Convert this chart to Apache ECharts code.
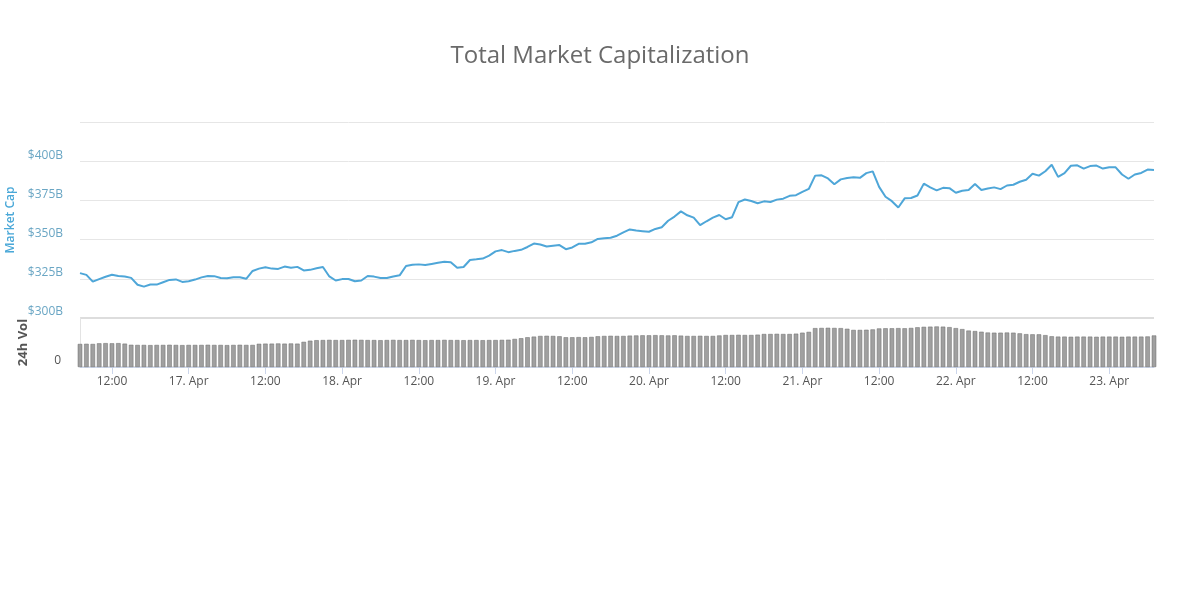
<!DOCTYPE html>
<html>
<head>
<meta charset="utf-8">
<script src="https://cdn.jsdelivr.net/npm/echarts@6/dist/echarts.min.js"></script>
<style>
html,body{margin:0;padding:0;background:#fff;}
#chart{width:1200px;height:610px;}
</style>
</head>
<body>
<div id="chart"></div>
<script>
// Hourly samples from 16 Apr 2018 07:00 to 23 Apr 2018 07:00
const startTimeUTC = Date.UTC(2018, 3, 16, 7, 0);
const stepHours = 1;

// Total market capitalization, $B
const marketCap = [
328.6,327.5,323.2,324.8,326.3,327.6,326.8,326.5,325.6,321.2,320.0,321.4,321.3,322.8,324.3,324.6,323.0,
323.4,324.5,325.9,326.8,326.7,325.5,325.3,326.0,326.0,325.0,330.0,331.5,332.4,331.5,331.3,332.8,332.0,332.6,330.3,330.7,331.7,332.5,326.5,323.9,
324.8,324.9,323.4,323.9,326.8,326.4,325.5,325.5,326.5,327.2,333.2,334.0,334.2,333.8,334.5,335.2,335.9,335.6,332.0,332.5,337.0,337.4,337.9,339.8,
342.5,343.3,342.0,342.8,343.5,345.3,347.5,346.9,345.6,346.1,346.5,343.9,345.0,347.3,347.4,348.3,350.4,350.9,351.2,352.5,354.6,356.5,355.8,355.4,
355.0,356.8,357.9,362.0,364.7,368.0,365.5,364.0,359.2,361.7,364.0,365.7,363.0,364.3,373.9,375.6,374.6,373.2,374.4,374.0,375.5,376.1,377.9,378.3,
380.4,382.3,390.8,391.0,389.0,385.3,388.4,389.3,389.7,389.4,392.4,393.5,383.6,377.3,374.5,370.5,376.3,376.5,378.1,385.7,383.3,381.4,383.0,382.8,
379.9,381.2,381.6,385.5,381.6,382.6,383.3,382.2,384.5,385.0,386.9,388.2,392.0,390.8,393.6,397.7,390.0,392.4,397.1,397.4,395.3,396.9,397.2,395.3,
396.2,396.1,391.5,388.8,391.5,392.5,394.7,394.4
];

// 24h volume, $B
const volume24h = [
14.1,14.2,14.1,14.5,
14.6,14.5,14.6,14.3,
13.6,13.5,13.5,13.4,13.5,13.5,13.6,13.5,13.4,13.5,13.5,13.5,13.6,13.5,13.5,13.4,13.5,13.6,13.5,13.5,
14.2,14.3,14.3,14.4,14.3,14.4,14.3,
15.4,16.1,
16.4,16.5,16.6,16.5,16.5,16.6,16.7,16.6,16.5,16.5,16.4,16.5,16.6,16.5,16.5,16.6,16.5,16.4,16.5,16.5,16.6,16.5,16.5,16.4,16.5,16.5,16.4,16.5,16.5,16.6,16.7,17.2,
17.6,18.2,18.6,
19.0,19.1,19.0,18.8,
18.2,18.2,18.3,18.2,18.4,18.8,
19.0,19.1,19.0,19.0,19.2,19.3,
19.4,19.4,19.5,19.4,19.3,19.4,19.2,
19.0,19.0,19.1,19.0,19.0,19.3,
19.6,19.6,19.7,19.6,19.6,19.8,
20.2,20.2,20.3,20.2,20.2,20.4,
21.0,21.5,
23.8,23.9,24.0,23.9,23.8,23.4,
22.7,22.7,22.8,23.0,
23.6,23.7,23.7,23.8,23.7,23.9,24.3,
24.6,24.7,24.8,24.7,24.4,
23.8,23.2,
22.3,22.0,21.6,
21.1,21.0,21.0,21.1,21.0,20.6,
20.1,20.0,20.0,19.5,
18.8,18.6,18.6,18.5,18.6,18.6,18.6,18.5,18.6,18.6,18.6,18.5,18.6,18.6,18.6,18.7,
19.3
];

const monthNames = ['Jan','Feb','Mar','Apr','May','Jun','Jul','Aug','Sep','Oct','Nov','Dec'];
const pad = n => (n < 10 ? '0' : '') + n;
const categories = marketCap.map((_, i) => {
  const d = new Date(startTimeUTC + i * stepHours * 3600000);
  return d.getUTCFullYear() + '-' + pad(d.getUTCMonth() + 1) + '-' + pad(d.getUTCDate()) + ' ' + pad(d.getUTCHours()) + ':' + pad(d.getUTCMinutes());
});
const isTick = (v) => { const t = v.slice(11); return t === '00:00' || t === '12:00'; };
const tickLabel = (v) => {
  const t = v.slice(11);
  if (t === '00:00') return parseInt(v.slice(8, 10), 10) + '. ' + monthNames[parseInt(v.slice(5, 7), 10) - 1];
  return t;
};

const FONT = '"Open Sans", "DejaVu Sans", sans-serif';
const chart = echarts.init(document.getElementById('chart'), null, {renderer: 'canvas'});
chart.setOption({
  animation: false,
  backgroundColor: '#ffffff',
  title: {
    text: 'Total Market Capitalization',
    left: 'center',
    top: 39,
    textStyle: {fontFamily: FONT, fontSize: 24, fontWeight: 'normal', color: '#6a6a6a'}
  },
  grid: [
    {left: 80, right: 46, top: 122, height: 196, containLabel: false, outerBoundsMode: 'none'},
    {left: 80, right: 46, top: 318, height: 49, containLabel: false, outerBoundsMode: 'none'}
  ],
  xAxis: [
    {
      type: 'category', gridIndex: 0, data: categories, boundaryGap: false,
      axisLine: {show: false}, axisTick: {show: false}, axisLabel: {show: false}, splitLine: {show: false}
    },
    {
      type: 'category', gridIndex: 1, data: categories, boundaryGap: false,
      axisLine: {show: true, lineStyle: {color: '#ccd6eb', width: 1}},
      axisTick: {show: true, length: 7, interval: (i, v) => isTick(v), lineStyle: {color: '#ccd6eb'}},
      axisLabel: {
        interval: (i, v) => isTick(v), formatter: tickLabel, margin: 9,
        color: '#555555', fontFamily: FONT, fontSize: 12
      },
      splitLine: {show: false}
    }
  ],
  yAxis: [
    {
      type: 'value', gridIndex: 0, min: 300, max: 425, interval: 25,
      name: 'Market Cap', nameLocation: 'middle', nameRotate: 90, nameGap: 60,
      nameTextStyle: {color: '#4aa8d8', fontFamily: FONT, fontSize: 12, fontWeight: 600},
      axisLine: {show: false}, axisTick: {show: false},
      axisLabel: {
        formatter: v => (v >= 425 ? '' : '$' + v + 'B'),
        color: '#6aa6c4', fontFamily: FONT, fontSize: 12, margin: 17, verticalAlign: 'bottom'
      },
      splitLine: {show: true, lineStyle: {color: '#e6e6e6', width: 1}}
    },
    {
      type: 'value', gridIndex: 1, min: 0, max: 30, interval: 30,
      name: '24h Vol', nameLocation: 'middle', nameRotate: 90, nameGap: 50,
      nameTextStyle: {color: '#555555', fontFamily: FONT, fontSize: 13, fontWeight: 'bold'},
      axisLine: {show: true, lineStyle: {color: '#e3e3e3', width: 1}}, axisTick: {show: false},
      axisLabel: {
        formatter: v => (v === 0 ? '0' : ''),
        color: '#555555', fontFamily: FONT, fontSize: 12, margin: 19, verticalAlign: 'bottom'
      },
      splitLine: {show: true, lineStyle: {color: '#dddddd', width: 2}}
    }
  ],
  series: [
    {
      name: 'Market Cap', type: 'line', xAxisIndex: 0, yAxisIndex: 0, data: marketCap,
      showSymbol: false, symbol: 'none', smooth: false,
      lineStyle: {color: '#4ea6d8', width: 2}
    },
    {
      name: '24h Vol', type: 'bar', xAxisIndex: 1, yAxisIndex: 1, data: volume24h,
      barWidth: 4.5,
      itemStyle: {color: '#a0a0a0', borderColor: '#6a6a6a', borderWidth: 0.5}
    }
  ]
});
</script>
</body>
</html>
